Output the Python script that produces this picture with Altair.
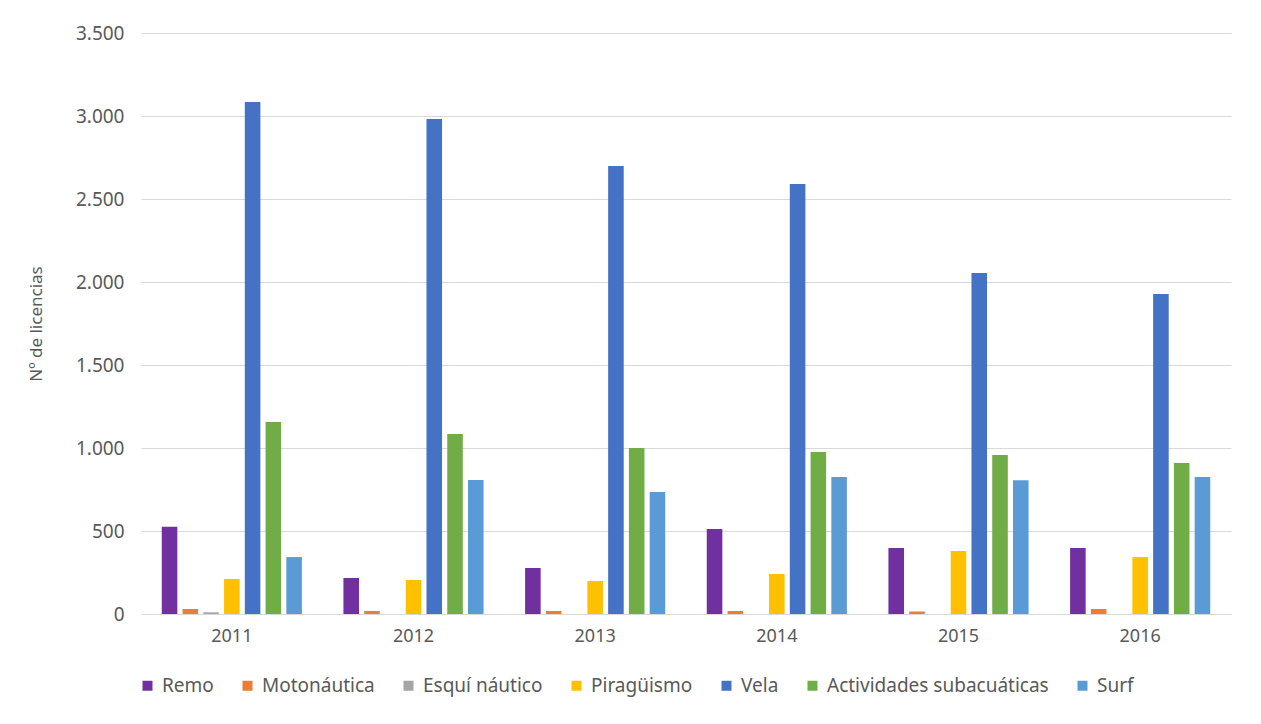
import altair as alt
import pandas as pd

years = ["2011", "2012", "2013", "2014", "2015", "2016"]
sports = ["Remo", "Motonáutica", "Esquí náutico", "Piragüismo", "Vela",
          "Actividades subacuáticas", "Surf"]
colors = ["#7030A0", "#ED7D31", "#A5A5A5", "#FFC000", "#4472C4", "#70AD47", "#5B9BD5"]

remo = [525, 217, 277, 512, 398, 398]
motonautica = [30, 18, 18, 18, 15, 30]
esqui = [10, 0, 0, 0, 0, 0]
piraguismo = [211, 205, 199, 241, 380, 343]
vela = [3084, 2982, 2699, 2590, 2054, 1928]
actividades = [1157, 1084, 1000, 976, 958, 910]
surf = [343, 807, 735, 825, 805, 825]

series = [remo, motonautica, esqui, piraguismo, vela, actividades, surf]
rows = []
for s, vals in zip(sports, series):
    for y, v in zip(years, vals):
        rows.append({"Año": y, "Deporte": s, "Licencias": v})
df = pd.DataFrame(rows)

FONT = "Noto Sans"
TXT = "#595959"

chart = alt.Chart(df).mark_bar().encode(
    x=alt.X("Año:N", sort=years, title=None,
            scale=alt.Scale(paddingInner=0, paddingOuter=0),
            axis=alt.Axis(labelAngle=0, labelFont=FONT, labelFontSize=18,
                          labelColor=TXT, ticks=False, domainColor="#D9D9D9",
                          labelPadding=13)),
    xOffset=alt.XOffset("Deporte:N", sort=sports,
                        scale=alt.Scale(paddingInner=0.25, paddingOuter=1.0)),
    y=alt.Y("Licencias:Q", title="Nº de licencias",
            scale=alt.Scale(domain=[0, 3500]),
            axis=alt.Axis(values=[0, 500, 1000, 1500, 2000, 2500, 3000, 3500],
                          labelExpr="replace(format(datum.value, ','), ',', '.')",
                          labelFont=FONT, labelFontSize=19, labelColor=TXT,
                          titleFont=FONT, titleFontSize=17, titleColor=TXT,
                          titleFontWeight="normal", titlePadding=30,
                          ticks=False, domain=False, labelPadding=17,
                          gridColor="#D9D9D9")),
    color=alt.Color("Deporte:N", sort=sports,
                    scale=alt.Scale(domain=sports, range=colors),
                    legend=alt.Legend(orient="none", direction="horizontal",
                                      legendX=-3, legendY=643,
                                      columns=7, title=None, symbolType="square",
                                      symbolSize=100, symbolStrokeWidth=0,
                                      labelFont=FONT, labelFontSize=19,
                                      labelLimit=0,
                                      labelColor=TXT, columnPadding=24,
                                      labelOffset=5)),
).properties(
    width=1090, height=581,
    padding={"left": 19, "top": 16, "right": 15, "bottom": 10},
).configure_view(stroke=None)

chart.save("out.html", embed_options={"renderer": "svg", "actions": False})
